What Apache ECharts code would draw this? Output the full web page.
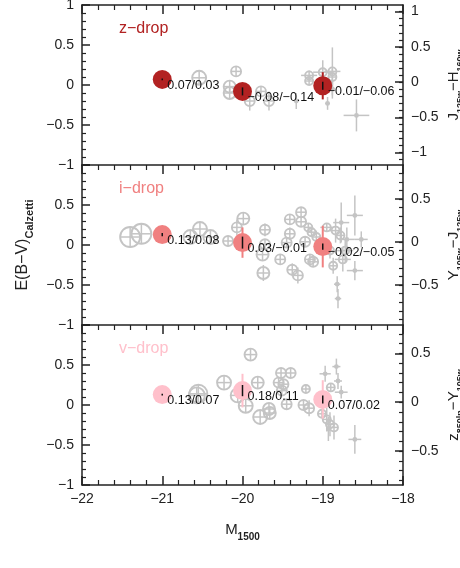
<!DOCTYPE html>
<html>
<head>
<meta charset="utf-8">
<script src="https://cdn.jsdelivr.net/npm/echarts@6/dist/echarts.min.js"></script>
<style>
html, body { margin: 0; padding: 0; background: #fff; }
#main { width: 460px; height: 568px; }
</style>
</head>
<body>
<div id="main"></div>
<script>
// panel names
const panelNames = ['z−drop', 'i−drop', 'v−drop']

// binned points: [M1500, E(B-V), colour error, black error]
const zBins = [[-21, 0.07, 0, 0.01], [-20, -0.08, 0.08, 0.05], [-19, -0.01, 0.17, 0.05]]
const iBins = [[-21, 0.13, 0, 0.02], [-20, 0.03, 0.19, 0.075], [-19, -0.02, 0.26, 0.04]]
const vBins = [[-21, 0.13, 0, 0.01], [-20, 0.18, 0.21, 0.07], [-19, 0.07, 0.24, 0.05]]
const zText = ['0.07/0.03', '−0.08/−0.14', '−0.01/−0.06']
const iText = ['0.13/0.08', '0.03/−0.01', '−0.02/−0.05']
const vText = ['0.13/0.07', '0.18/0.11', '0.07/0.02']

// single galaxies: [M1500, E(B-V), weight (0 = small dot), err M, err E]
const zGal = [
  [-20.54, 0.09, 4, 0, 0.02], [-20.08, 0.17, 2, 0, 0], [-20.16, -0.02, 3, 0, 0],
  [-20.16, -0.10, 3, 0, 0], [-19.91, -0.20, 2, 0, 0.12], [-19.77, -0.08, 2, 0, 0.05],
  [-19.67, -0.20, 2, 0, 0.12], [-19.33, -0.20, 0, 0.03, 0.1], [-19.17, 0.12, 1, 0.1, 0.06],
  [-19.17, 0.05, 1, 0.05, 0.05], [-19.0, 0.16, 1, 0.12, 0.15], [-18.88, 0.17, 1, 0.1, 0.3],
  [-18.88, 0.10, 1, 0.05, 0.1], [-18.88, -0.05, 0, 0.03, 0.12], [-18.94, -0.23, 0, 0, 0.08],
  [-18.58, -0.38, 0, 0.16, 0.2]
]
const iGal = [
  [-21.40, 0.10, 7, 0, 0.02], [-21.26, 0.14, 7, 0, 0.02], [-20.65, 0.10, 4, 0, 0],
  [-20.53, 0.20, 4, 0, 0.03], [-20.40, 0.10, 4, 0, 0], [-20.18, 0.05, 2, 0, 0],
  [-20.07, 0.22, 2, 0, 0.1], [-19.99, 0.33, 3, 0, 0], [-19.72, 0.19, 2, 0, 0.08],
  [-19.72, 0.01, 2, 0, 0], [-19.75, -0.12, 3, 0, 0.05], [-19.74, -0.35, 3, 0, 0.1],
  [-19.53, -0.18, 2, 0, 0], [-19.41, 0.14, 2, 0, 0.08], [-19.41, 0.32, 2, 0.05, 0.05],
  [-19.27, 0.41, 2, 0, 0.05], [-19.27, 0.29, 2, 0, 0.05], [-19.45, 0.03, 2, 0, 0.05],
  [-19.38, -0.31, 2, 0, 0.08], [-19.31, -0.38, 2, 0, 0.1], [-19.22, 0.04, 2, 0, 0],
  [-19.18, 0.22, 1, 0.05, 0.05], [-19.14, 0.16, 1, 0.05, 0.05], [-19.08, 0.10, 1, 0.05, 0.08],
  [-19.16, -0.18, 2, 0, 0.05], [-19.12, -0.21, 2, 0, 0.05], [-18.95, 0.22, 1, 0.08, 0.05],
  [-18.84, 0.18, 1, 0.08, 0.15], [-18.77, 0.28, 0, 0.1, 0.25], [-18.70, 0.07, 0, 0.1, 0.15],
  [-18.60, 0.37, 0, 0.1, 0.25], [-18.52, 0.07, 0, 0.08, 0.1], [-18.87, -0.26, 1, 0.05, 0.1],
  [-18.82, -0.49, 0, 0.04, 0.1], [-18.81, -0.67, 0, 0.04, 0.12], [-18.72, -0.07, 1, 0.1, 0.15],
  [-18.60, -0.32, 0, 0.1, 0.12], [-18.75, -0.18, 1, 0.1, 0.15], [-18.91, -0.07, 1, 0.05, 0.1],
  [-18.78, 0.12, 1, 0.05, 0.1]
]
const vGal = [
  [-20.55, 0.14, 6, 0, 0.02], [-20.57, 0.12, 5, 0, 0], [-20.23, 0.28, 4, 0, 0],
  [-19.90, 0.63, 3, 0, 0], [-20.06, 0.12, 4, 0, 0], [-19.96, -0.01, 4, 0, 0],
  [-19.81, 0.28, 3, 0, 0], [-19.78, -0.15, 4, 0, 0], [-19.67, -0.05, 3, 0, 0.05],
  [-19.66, -0.10, 3, 0, 0.05], [-19.52, 0.40, 2, 0, 0.05], [-19.40, 0.40, 2, 0, 0.05],
  [-19.55, 0.28, 2, 0, 0.05], [-19.49, 0.26, 2, 0, 0], [-19.51, 0.18, 2, 0, 0],
  [-19.45, 0.01, 2, 0, 0], [-19.24, 0.00, 2, 0, 0.05], [-19.21, 0.20, 1, 0, 0.05],
  [-19.17, -0.04, 2, 0, 0.1], [-18.97, 0.39, 0, 0.07, 0.1], [-18.83, 0.48, 0, 0.05, 0.1],
  [-18.81, 0.30, 0, 0.05, 0.1], [-18.77, 0.16, 0, 0.08, 0.08], [-18.90, 0.22, 1, 0, 0.05],
  [-19.01, -0.11, 1, 0, 0.05], [-18.95, -0.18, 1, 0.03, 0.15], [-18.91, -0.24, 1, 0.03, 0.15],
  [-18.86, -0.28, 1, 0.05, 0.15], [-18.93, -0.30, 0, 0, 0.15], [-18.60, -0.43, 0, 0.08, 0.18]
]

const bins = [zBins, iBins, vBins]
const binText = [zText, iText, vText]
const gals = [zGal, iGal, vGal]

// styling
const colors = ['#b22222', '#f08080', '#ffc0cb']
const GREY = '#c4c4c4'
const FONT = 'Liberation Sans'
const AX = '#222'
const tops = [5, 165, 325]
// right axis ranges (value at bottom / top edge of each panel)
const rightRange = [[-1.176, 1.094], [-0.965, 0.895], [-0.847, 0.790]]
const rightNames = [
  '{m|J}{s|125w}{m|−H}{s|160w}',
  '{m|Y}{s|105w}{m|−J}{s|125w}',
  '{m|z}{s|850lp}{m|−Y}{s|105w}'
]

const fmt = v => (v < 0 ? '−' : '') + Math.abs(Math.round(v * 100) / 100)

function stepValues(lo, hi, step) {
  const out = []
  for (let k = Math.ceil(lo / step - 1e-9); k * step <= hi + 1e-9; k++) out.push(Math.round(k * step * 10) / 10)
  return out
}

function renderGrey(params, api) {
  const x = api.value(0), y = api.value(1), w = api.value(2), ex = api.value(3), ey = api.value(4)
  const c = api.coord([x, y])
  const r = w > 0 ? 3 + w : 2.4
  const xl = Math.min(api.coord([x - ex, y])[0], c[0] - r)
  const xr = Math.max(api.coord([x + ex, y])[0], c[0] + r)
  const yt = Math.min(api.coord([x, y + ey])[1], c[1] - r)
  const yb = Math.max(api.coord([x, y - ey])[1], c[1] + r)
  const st = { stroke: GREY, lineWidth: 1.5 }
  return {
    type: 'group',
    children: [
      { type: 'line', shape: { x1: xl, y1: c[1], x2: xr, y2: c[1] }, style: st },
      { type: 'line', shape: { x1: c[0], y1: yt, x2: c[0], y2: yb }, style: st },
      {
        type: 'circle',
        shape: { cx: c[0], cy: c[1], r: r },
        style: w > 0 ? { fill: 'none', stroke: GREY, lineWidth: 1.9 } : { fill: GREY }
      }
    ]
  }
}

function barRenderer(color, dim, width) {
  return function(params, api) {
    const x = api.value(0), y = api.value(1), e = api.value(dim)
    const p0 = api.coord([x, y + e]), p1 = api.coord([x, y - e])
    return {
      type: 'line',
      shape: { x1: p0[0], y1: p0[1], x2: p1[0], y2: p1[1] },
      style: { stroke: color, lineWidth: width }
    }
  }
}

const grid = [], xAxis = [], yAxis = [], series = [], title = []
const lineStyle = { color: AX, width: 1.5 }

for (let i = 0; i < 3; i++) {
  grid.push({ left: 82, width: 321, top: tops[i], height: 160, containLabel: false, outerBoundsMode: 'none' })
  title.push({
    text: panelNames[i], left: 114, top: tops[i] + 11,
    textStyle: { color: colors[i], fontSize: 16, fontWeight: 'normal', fontFamily: FONT }
  })

  // top x axis (ticks pointing down into the panel)
  const xTop = xAxis.length
  xAxis.push({
    gridIndex: i, type: 'value', position: 'top', min: -22, max: -18, interval: 1,
    axisLine: { show: true, onZero: false, lineStyle: lineStyle },
    axisTick: { show: true, inside: true, length: 9, lineStyle: lineStyle },
    minorTick: { show: true, splitNumber: 5, length: 5, lineStyle: { color: AX, width: 1.2 } },
    axisLabel: { show: false },
    splitLine: { show: false }
  })
  if (i === 2) {
    xAxis.push({
      gridIndex: i, type: 'value', position: 'bottom', min: -22, max: -18, interval: 1,
      axisLine: { show: true, onZero: false, lineStyle: lineStyle },
      axisTick: { show: true, inside: true, length: 9, lineStyle: lineStyle },
      minorTick: { show: true, splitNumber: 5, length: 5, lineStyle: { color: AX, width: 1.2 } },
      axisLabel: { show: true, margin: 7, fontSize: 14, color: AX, fontFamily: FONT, formatter: fmt },
      splitLine: { show: false },
      name: '{m|M}{s|1500}',
      nameLocation: 'middle',
      nameGap: 33,
      nameMoveOverlap: false,
      nameTextStyle: {
        rich: {
          m: { fontSize: 15, fontFamily: FONT, color: AX, lineHeight: 24, verticalAlign: 'middle' },
          s: { fontSize: 10, fontFamily: FONT, color: AX, fontWeight: 'bold', lineHeight: 24, verticalAlign: 'bottom' }
        }
      }
    })
  }

  // left axis
  const yLeft = yAxis.length
  yAxis.push({
    gridIndex: i, type: 'value', position: 'left', min: -1, max: 1, interval: 0.5,
    axisLine: { show: true, onZero: false, lineStyle: lineStyle },
    axisTick: { show: true, inside: true, length: 8, lineStyle: lineStyle },
    minorTick: { show: true, splitNumber: 5, length: 4, lineStyle: { color: AX, width: 1.2 } },
    axisLabel: {
      margin: 8, fontSize: 14, color: AX, fontFamily: FONT,
      formatter: v => (i > 0 && v === 1) ? '' : fmt(v)
    },
    splitLine: { show: false },
    name: i === 1 ? '{m|E(B−V)}{s|Calzetti}' : '',
    nameLocation: 'middle',
    nameRotate: 90,
    nameGap: 46,
    nameTextStyle: {
      rich: {
        m: { fontSize: 16, fontFamily: FONT, color: AX, lineHeight: 26, verticalAlign: 'middle' },
        s: { fontSize: 11, fontFamily: FONT, color: AX, fontWeight: 'bold', lineHeight: 26, verticalAlign: 'bottom' }
      }
    }
  })

  // right axis: minor ticks + frame line
  const rr = rightRange[i]
  yAxis.push({
    gridIndex: i, type: 'value', position: 'right', min: rr[0], max: rr[1],
    axisLine: { show: true, onZero: false, lineStyle: lineStyle },
    axisTick: { show: true, inside: true, length: 4, customValues: stepValues(rr[0], rr[1], 0.1), lineStyle: { color: AX, width: 1.2 } },
    axisLabel: { show: false },
    splitLine: { show: false }
  })
  // right axis: major ticks, labels, name
  const majors = stepValues(rr[0], rr[1], 0.5)
  yAxis.push({
    gridIndex: i, type: 'value', position: 'right', min: rr[0], max: rr[1],
    axisLine: { show: false, onZero: false },
    axisTick: { show: true, inside: true, length: 8, customValues: majors, lineStyle: lineStyle },
    axisLabel: { show: true, customValues: majors, margin: 8, fontSize: 14, color: AX, fontFamily: FONT, formatter: fmt },
    splitLine: { show: false },
    name: rightNames[i],
    nameLocation: 'middle',
    nameRotate: 90,
    nameGap: 40,
    nameMoveOverlap: false,
    nameTextStyle: {
      rich: {
        m: { fontSize: 15, fontFamily: FONT, color: AX, lineHeight: 22, verticalAlign: 'middle' },
        s: { fontSize: 9, fontFamily: FONT, color: AX, fontWeight: 'bold', lineHeight: 22, verticalAlign: 'bottom' }
      }
    }
  })

  series.push({
    type: 'custom', xAxisIndex: xTop, yAxisIndex: yLeft, z: 2, silent: true,
    renderItem: renderGrey, data: gals[i]
  })
  series.push({
    type: 'custom', xAxisIndex: xTop, yAxisIndex: yLeft, z: 3, silent: true,
    renderItem: barRenderer(colors[i], 2, 2), data: bins[i]
  })
  const texts = binText[i]
  series.push({
    type: 'scatter', xAxisIndex: xTop, yAxisIndex: yLeft, z: 4, silent: true,
    symbol: 'circle', symbolSize: 19,
    itemStyle: { color: colors[i], opacity: 1 },
    label: {
      show: true, position: [14.5, 15.5], align: 'left', verticalAlign: 'middle',
      fontSize: 12.5, color: '#111', fontFamily: FONT,
      formatter: p => texts[p.dataIndex]
    },
    data: bins[i].map(b => [b[0], b[1]])
  })
  series.push({
    type: 'custom', xAxisIndex: xTop, yAxisIndex: yLeft, z: 5, silent: true,
    renderItem: barRenderer('#111', 3, 1.5), data: bins[i]
  })
}

const chart = echarts.init(document.getElementById('main'))
chart.setOption({
  animation: false,
  backgroundColor: '#fff',
  title: title,
  grid: grid,
  xAxis: xAxis,
  yAxis: yAxis,
  series: series
})
</script>
</body>
</html>
